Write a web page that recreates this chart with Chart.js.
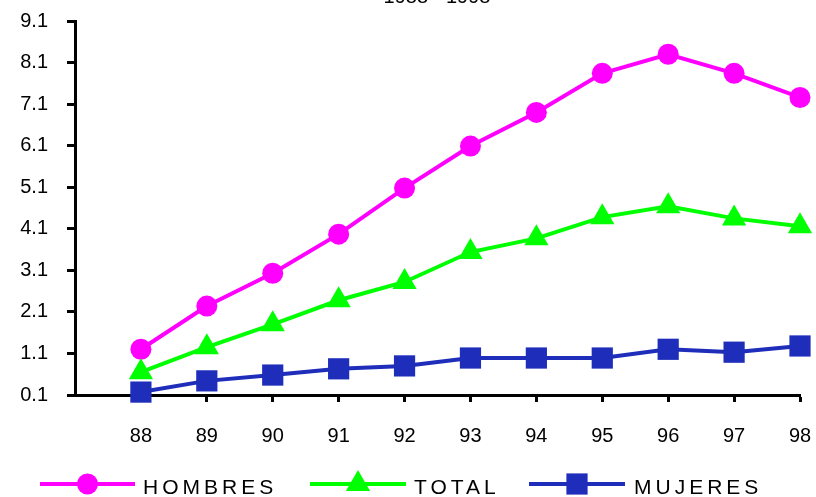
<!DOCTYPE html>
<html>
<head>
<meta charset="utf-8">
<script src="https://cdn.jsdelivr.net/npm/chart.js@4.4.1/dist/chart.umd.min.js"></script>
<style>
  html, body { margin: 0; padding: 0; background: #fff; }
  #wrap { width: 816px; height: 497px; position: relative; }
</style>
</head>
<body>
<div id="wrap"><canvas id="c" width="816" height="497"></canvas></div>
<script>
const titleText = '1988 - 1998';
const years = ['88','89','90','91','92','93','94','95','96','97','98'];
const hombres = [1.2, 2.24, 3.03, 3.97, 5.08, 6.09, 6.9, 7.84, 8.3, 7.84, 7.26];
const total   = [0.65, 1.25, 1.8, 2.38, 2.82, 3.54, 3.87, 4.38, 4.64, 4.35, 4.16];
const mujeres = [0.17, 0.44, 0.58, 0.73, 0.8, 0.99, 0.99, 0.99, 1.2, 1.13, 1.28];
const yTicks  = [0.1, 1.1, 2.1, 3.1, 4.1, 5.1, 6.1, 7.1, 8.1, 9.1];
const xTicks  = years.map(Number);

const FONT = "'Liberation Sans', Arial, sans-serif";
const series = [
  { label: 'HOMBRES', data: hombres, color: '#FF00FF', style: 'circle', radius: 10.5 },
  { label: 'TOTAL',   data: total,   color: '#00FF00', style: 'triangle', radius: 14 },
  { label: 'MUJERES', data: mujeres, color: '#1E2EBA', style: 'rect', radius: 15 }
];

const legendPos = [
  { x0: 40, x1: 135, text: 143 },
  { x0: 310, x1: 406, text: 414 },
  { x0: 529, x1: 625, text: 634 }
];

const extras = {
  id: 'extras',
  afterDraw(chart) {
    const ctx = chart.ctx;
    ctx.save();
    ctx.fillStyle = '#000';
    ctx.font = '20px ' + FONT;
    ctx.textAlign = 'center';
    ctx.textBaseline = 'alphabetic';
    ctx.fillText(titleText, 437, 3);
    const ly = 484;
    series.forEach((s, i) => {
      const p = legendPos[i];
      ctx.strokeStyle = s.color;
      ctx.lineWidth = 4;
      ctx.beginPath();
      ctx.moveTo(p.x0, ly);
      ctx.lineTo(p.x1, ly);
      ctx.stroke();
      ctx.fillStyle = s.color;
      Chart.helpers.drawPoint(ctx, { pointStyle: s.style, radius: s.radius, rotation: 0, borderWidth: 0 }, (p.x0 + p.x1) / 2, ly);
      ctx.fillStyle = '#000';
      ctx.font = '21px ' + FONT;
      ctx.textAlign = 'left';
      ctx.letterSpacing = '4px';
      ctx.fillText(s.label, p.text, 494);
      ctx.letterSpacing = '0px';
    });
    ctx.restore();
  }
};

new Chart(document.getElementById('c'), {
  type: 'line',
  data: {
    datasets: series.map(s => ({
      label: s.label,
      data: s.data.map((v, i) => ({ x: Number(years[i]), y: v })),
      borderColor: s.color,
      backgroundColor: s.color,
      borderWidth: 4,
      pointStyle: s.style,
      pointRadius: s.radius,
      pointHoverRadius: s.radius,
      pointBorderWidth: 0,
      pointBackgroundColor: s.color,
      tension: 0,
      clip: false
    })).reverse()
  },
  options: {
    responsive: false,
    animation: false,
    events: [],
    layout: { padding: { left: 0, right: 16, top: 21, bottom: 0 } },
    plugins: { legend: { display: false }, title: { display: false }, tooltip: { enabled: false } },
    scales: {
      x: {
        type: 'linear',
        min: 87, max: 98,
        afterBuildTicks: sc => { sc.ticks = xTicks.map(v => ({ value: v })); },
        afterFit: sc => { sc.height = 102; sc.paddingLeft = 0; sc.paddingRight = 0; },
        border: { display: true, color: '#000', width: 3 },
        grid: { display: true, drawOnChartArea: false, drawTicks: true, tickLength: 7, tickWidth: 3, tickColor: '#000' },
        ticks: { color: '#000', font: { family: FONT, size: 20 }, padding: 22, maxRotation: 0, autoSkip: false,
                 callback: v => String(v) }
      },
      y: {
        type: 'linear',
        min: 0.1, max: 9.1,
        afterBuildTicks: sc => { sc.ticks = yTicks.map(v => ({ value: v })); },
        afterFit: sc => { sc.width = 75; sc.paddingTop = 0; sc.paddingBottom = 0; },
        border: { display: true, color: '#000', width: 3 },
        grid: { display: true, drawOnChartArea: false, drawTicks: true, tickLength: 8, tickWidth: 3, tickColor: '#000' },
        ticks: { color: '#000', font: { family: FONT, size: 20 }, padding: 19, autoSkip: false,
                 callback: v => Number(v).toFixed(1) }
      }
    }
  },
  plugins: [extras]
});
</script>
</body>
</html>
